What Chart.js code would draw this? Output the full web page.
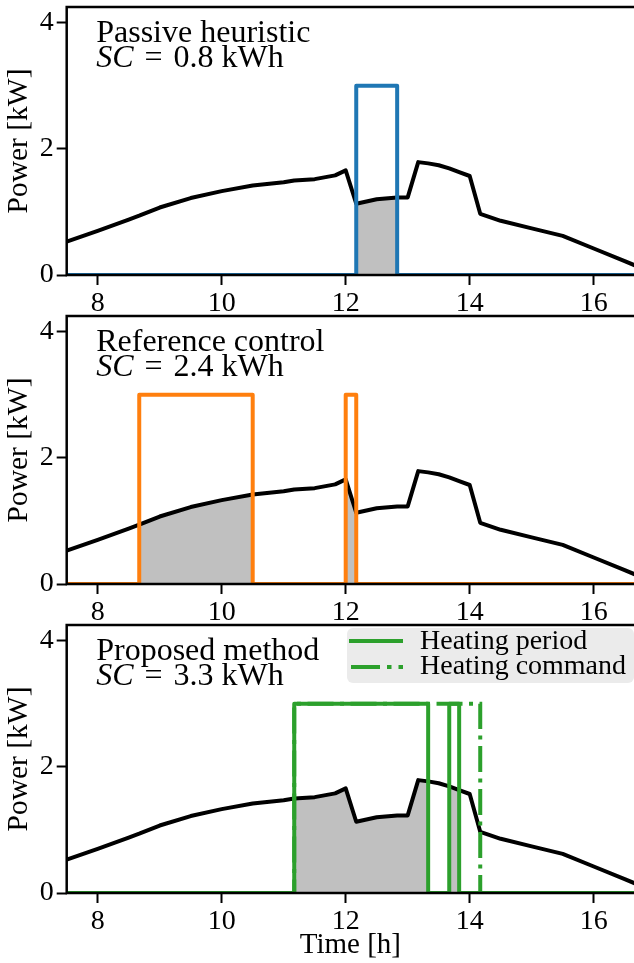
<!DOCTYPE html>
<html>
<head>
<meta charset="utf-8">
<script src="https://cdn.jsdelivr.net/npm/chart.js@4.4.0/dist/chart.umd.min.js"></script>
<style>
  html, body { margin: 0; padding: 0; background: #fff; overflow: hidden; }
  #wrap { position: relative; width: 634px; height: 963px; }
  canvas { position: absolute; left: 0; }
</style>
</head>
<body>
<div id="wrap">
  <canvas id="c0" width="634" height="345" style="top:0px"></canvas>
  <canvas id="c1" width="634" height="345" style="top:309px"></canvas>
  <canvas id="c2" width="634" height="345" style="top:618px"></canvas>
</div>
<script>
// PV power [kW] over time [h]
const TIME = [7.5, 8.0, 8.5, 8.67, 9.0, 9.5, 10.0, 10.5, 11.0, 11.17, 11.5, 11.83, 12.0, 12.17,
              12.5, 12.83, 13.0, 13.17, 13.33, 13.5, 13.67, 13.83, 14.0, 14.17, 14.5, 15.0,
              15.5, 16.0, 16.5, 16.67];
const PV = [0.53, 0.70, 0.88, 0.94, 1.07, 1.22, 1.33, 1.42, 1.47, 1.50, 1.52, 1.58, 1.66, 1.13,
            1.20, 1.23, 1.23, 1.79, 1.77, 1.74, 1.69, 1.63, 1.57, 0.97, 0.86, 0.74,
            0.62, 0.42, 0.22, 0.15];

const HEAT_POWER = 3; // kW

const TITLES = ['Passive heuristic', 'Reference control', 'Proposed method'];
const SC_VALUES = ['0.8', '2.4', '3.3'];
const COLORS = ['#1f77b4', '#ff7f0e', '#2ca02c'];

// heating periods [start, end] in h
const PERIODS_PASSIVE = [[12.17, 12.83]];
const PERIODS_REFERENCE = [[8.67, 10.5], [12.0, 12.17]];
const PERIODS_PROPOSED = [[11.17, 13.33], [13.67, 13.83]];
const COMMAND_PROPOSED = [[11.17, 14.17]];

const X_MIN = 7.5, X_MAX = 16.65;
const Y_MIN = 0, Y_MAX = 4.25;
const X_TICKS = [8, 10, 12, 14, 16];
const Y_TICKS = [0, 2, 4];

const FONT = '"Liberation Serif", "Times New Roman", serif';

function stepPoints(intervals) {
    const pts = [{ x: TIME[0], y: 0 }];
    intervals.forEach(([s, e]) => {
        pts.push({ x: s, y: 0 }, { x: s, y: HEAT_POWER }, { x: e, y: HEAT_POWER }, { x: e, y: 0 });
    });
    pts.push({ x: TIME[TIME.length - 1], y: 0 });
    return pts;
}

function fillPoints(intervals) {
    return TIME.map((t, i) => {
        const on = intervals.some(([s, e]) => t >= s - 1e-6 && t <= e + 1e-6);
        return { x: t, y: on ? PV[i] : null };
    });
}

const panelDecor = {
    id: 'panelDecor',
    afterDatasetsDraw(chart, args, opts) {
        const { ctx, chartArea: a } = chart;
        ctx.save();
        // spines (top, left, bottom)
        ctx.strokeStyle = '#000';
        ctx.lineWidth = 2.5;
        ctx.beginPath();
        ctx.moveTo(a.right + 5, a.top);
        ctx.lineTo(a.left, a.top);
        ctx.lineTo(a.left, a.bottom);
        ctx.lineTo(a.right + 5, a.bottom);
        ctx.stroke();

        // annotation
        ctx.fillStyle = '#000';
        ctx.textBaseline = 'alphabetic';
        ctx.textAlign = 'left';
        let tx = a.left + 29.5;
        ctx.font = '32px ' + FONT;
        ctx.fillText(opts.title, tx, a.top + 35);
        ctx.font = 'italic 32px ' + FONT;
        ctx.fillText('SC', tx, a.top + 60);
        tx += ctx.measureText('SC').width + 11;
        ctx.font = '32px ' + FONT;
        ctx.fillText('=', tx, a.top + 60);
        tx += ctx.measureText('=').width + 11;
        ctx.fillText(opts.sc + ' kWh', tx, a.top + 60);

        if (opts.legend) {
            const bx = 347, by = a.top + 3, bw = 287, bh = 55;
            ctx.fillStyle = '#ebebeb';
            ctx.beginPath();
            ctx.roundRect(bx, by, bw, bh, 6);
            ctx.fill();
            ctx.strokeStyle = opts.color;
            ctx.lineWidth = 4;
            ctx.beginPath();
            ctx.moveTo(349, a.top + 16);
            ctx.lineTo(403, a.top + 16);
            ctx.stroke();
            ctx.setLineDash([29, 7, 4.5, 7]);
            ctx.beginPath();
            ctx.moveTo(351, a.top + 42);
            ctx.lineTo(403, a.top + 42);
            ctx.stroke();
            ctx.setLineDash([]);
            ctx.fillStyle = '#000';
            ctx.font = '28px ' + FONT;
            ctx.fillText('Heating period', 420, a.top + 24);
            ctx.fillText('Heating command', 420, a.top + 49);
        }
        ctx.restore();
    }
};

function makePanel(idx, periods, command) {
    const color = COLORS[idx];
    const datasets = [
        {
            label: 'Heating period',
            data: stepPoints(periods),
            borderColor: color,
            borderWidth: 4,
            borderJoinStyle: 'round',
            pointRadius: 0,
            fill: false,
            order: 0
        },
        {
            label: 'PV',
            data: TIME.map((t, i) => ({ x: t, y: PV[i] })),
            borderColor: '#000',
            borderWidth: 4,
            borderJoinStyle: 'round',
            pointRadius: 0,
            fill: false,
            order: 2
        },
        {
            label: 'Self-consumption',
            data: fillPoints(periods),
            borderWidth: 0,
            borderColor: 'rgba(0,0,0,0)',
            backgroundColor: '#c0c0c0',
            pointRadius: 0,
            fill: 'origin',
            spanGaps: false,
            order: 3
        }
    ];
    if (command) {
        datasets.push({
            label: 'Heating command',
            data: stepPoints(command),
            borderColor: color,
            borderWidth: 4,
            borderDash: [26, 6.5, 4, 6.5],
            pointRadius: 0,
            fill: false,
            order: 1
        });
    }
    const last = idx === 2;
    return new Chart(document.getElementById('c' + idx), {
        type: 'line',
        data: { datasets },
        options: {
            responsive: false,
            animation: false,
            events: [],
            layout: { padding: { top: 7, left: 0, right: 0, bottom: 0 } },
            plugins: {
                legend: { display: false },
                tooltip: { enabled: false },
                panelDecor: { title: TITLES[idx], sc: SC_VALUES[idx], legend: last, color }
            },
            scales: {
                x: {
                    type: 'linear',
                    min: X_MIN,
                    max: X_MAX,
                    afterBuildTicks: s => { s.ticks = X_TICKS.map(v => ({ value: v })); },
                    afterFit: s => { s.height = 70; s.paddingLeft = 0; s.paddingRight = 0; },
                    grid: { drawOnChartArea: false, tickLength: 10, tickWidth: 2, tickColor: '#000' },
                    border: { display: false },
                    ticks: { color: '#000', font: { family: FONT, size: 28 }, padding: 2, maxRotation: 0 },
                    title: {
                        display: last,
                        text: 'Time [h]',
                        color: '#000',
                        font: { family: FONT, size: 29 },
                        padding: { top: 0, bottom: 0 }
                    }
                },
                y: {
                    min: Y_MIN,
                    max: Y_MAX,
                    afterBuildTicks: s => { s.ticks = Y_TICKS.map(v => ({ value: v })); },
                    afterFit: s => { s.width = 66.7; s.paddingTop = 0; s.paddingBottom = 0; },
                    grid: { drawOnChartArea: false, tickLength: 10, tickWidth: 2, tickColor: '#000' },
                    border: { display: false },
                    ticks: { color: '#000', font: { family: FONT, size: 28 }, padding: 3 },
                    title: {
                        display: true,
                        text: 'Power [kW]',
                        color: '#000',
                        font: { family: FONT, size: 29.5 },
                        padding: { top: 2, bottom: 0 }
                    }
                }
            }
        },
        plugins: [panelDecor]
    });
}

makePanel(0, PERIODS_PASSIVE, null);
makePanel(1, PERIODS_REFERENCE, null);
makePanel(2, PERIODS_PROPOSED, COMMAND_PROPOSED);
</script>
</body>
</html>
